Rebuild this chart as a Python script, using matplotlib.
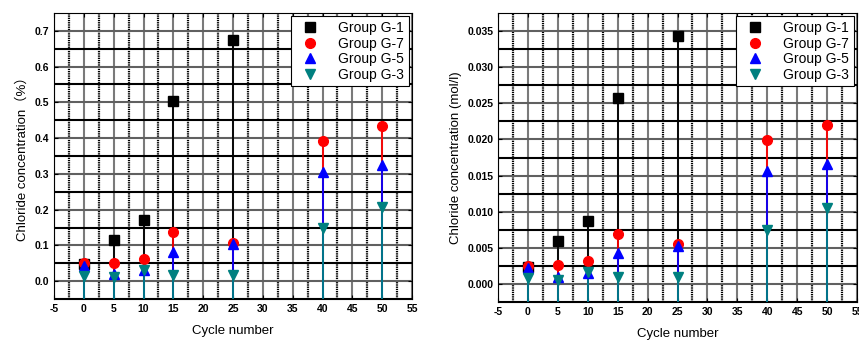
import matplotlib.pyplot as plt
import numpy as np

cycles = [0, 5, 10, 15, 25, 40, 50]
groups = ['Group G-1', 'Group G-7', 'Group G-5', 'Group G-3']

# chloride content, % of mass (G-1 ends at 25 cycles)
pct_g1 = [0.048, 0.115, 0.172, 0.505, 0.675]
pct_g7 = [0.050, 0.052, 0.063, 0.137, 0.108, 0.392, 0.433]
pct_g5 = [0.043, 0.020, 0.030, 0.082, 0.105, 0.305, 0.325]
pct_g3 = [0.015, 0.012, 0.030, 0.017, 0.017, 0.148, 0.208]

# chloride content, mol/l
mol_g1 = [0.0024, 0.0059, 0.0087, 0.0257, 0.0343]
mol_g7 = [0.0025, 0.0026, 0.0032, 0.0069, 0.0055, 0.0199, 0.0220]
mol_g5 = [0.0022, 0.0010, 0.0015, 0.0043, 0.0053, 0.0156, 0.0166]
mol_g3 = [0.0008, 0.0006, 0.0016, 0.0009, 0.0009, 0.0075, 0.0105]

colors = ['black', 'red', 'blue', '#008080']
markers = ['s', 'o', '^', 'v']

plt.rcParams['font.family'] = ['Liberation Sans', 'Noto Sans CJK SC', 'DejaVu Sans']
plt.rcParams['axes.unicode_minus'] = False

fig = plt.figure(figsize=(8.59, 3.45), dpi=100)
ax1 = fig.add_axes([54 / 859, 1 - 299 / 345, 358 / 859, 286 / 345])
ax2 = fig.add_axes([498 / 859, 1 - 302 / 345, 359 / 859, 289 / 345])


def panel(ax, series, ylim, ystep, ylabel, yfmt):
    ax.set_xlim(-5, 55)
    ax.set_ylim(*ylim)
    # grid: gray lines on major steps, dotted black in between
    for x in np.arange(-5, 55.1, 5):
        ax.axvline(x, color='#7a7a7a', lw=1.5, zorder=0)
    for x in np.arange(-2.5, 55, 5):
        ax.axvline(x, color='black', lw=1.6, ls=(0, (0.6, 0.4)), zorder=0)
    for y in np.arange(0, ylim[1], ystep):
        ax.axhline(y, color='#606060', lw=1.5, zorder=0)
    for y in np.arange(-ystep / 2, ylim[1], ystep):
        ax.axhline(y, color='black', lw=1.5, zorder=0)

    for vals, name, c, m in zip(series, groups, colors, markers):
        xs = cycles[:len(vals)]
        ax.vlines(xs, ylim[0], vals, color=c, lw=1.3, zorder=2)
        ax.plot(xs, vals, ls='none', marker=m, color=c, ms=7, label=name, zorder=3)

    ax.set_xticks(np.arange(-5, 56, 5))
    ax.set_yticks(np.arange(0, ylim[1], ystep))
    ax.set_yticklabels([yfmt.format(v) for v in np.arange(0, ylim[1], ystep)])
    ax.tick_params(direction='in', top=True, right=True, labelsize=7.5, length=3, width=0.8)
    for lab in ax.get_xticklabels() + ax.get_yticklabels():
        lab.set_fontweight('bold')
    ax.set_xlabel('Cycle number', fontsize=9.5, labelpad=8)
    ax.set_ylabel(ylabel, fontsize=9.5)
    leg = ax.legend(loc='upper right', fontsize=10, fancybox=False, framealpha=1,
                    edgecolor='black', borderpad=0.35, labelspacing=0.1,
                    handletextpad=1.0, borderaxespad=0.25)
    leg.get_frame().set_linewidth(0.8)


panel(ax1, [pct_g1, pct_g7, pct_g5, pct_g3], (-0.05, 0.75), 0.1,
      'Chloride concentration\uff08%\uff09', '{:.1f}')
panel(ax2, [mol_g1, mol_g7, mol_g5, mol_g3], (-0.0025, 0.0375), 0.005,
      'Chloride concentration (mol/l)', '{:.3f}')

fig.savefig('out.png', dpi=100)
